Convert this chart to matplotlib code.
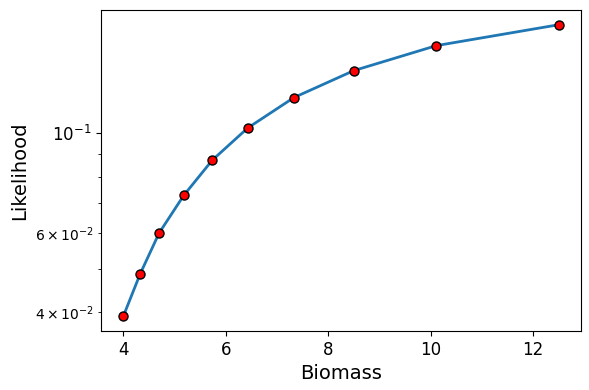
import numpy as np
import matplotlib
matplotlib.use("Agg")
import matplotlib.pyplot as plt

# Biomass vs likelihood values
biomass = [4.0, 4.33, 4.70, 5.18, 5.74, 6.43, 7.33, 8.50, 10.11, 12.5]
likelihood = [0.0392, 0.0487, 0.0600, 0.0727, 0.0871, 0.1026, 0.1198, 0.1375, 0.1562, 0.1738]

fig, ax = plt.subplots(figsize=(5.89, 3.9), dpi=100)
fig.subplots_adjust(left=0.1723, right=0.9856, top=0.974, bottom=0.1513)

ax.plot(biomass, likelihood, color="tab:blue", linewidth=2,
        marker="o", markersize=6.5, markerfacecolor="red", markeredgecolor="black")
ax.set_yscale("log")
ax.set_xlabel("Biomass", fontsize=14)
ax.set_ylabel("Likelihood", fontsize=14)
ax.tick_params(axis="both", which="major", labelsize=12)

fig.savefig("out.png", dpi=100)
